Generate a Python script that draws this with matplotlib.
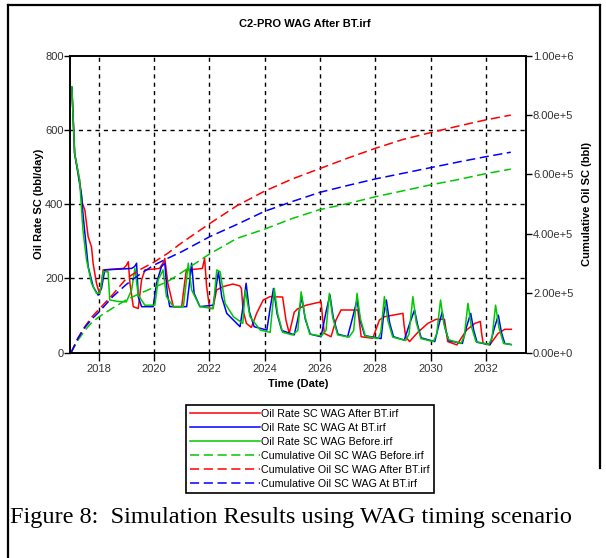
import matplotlib
matplotlib.use('Agg')
import matplotlib.pyplot as plt
from matplotlib.lines import Line2D
from matplotlib.ticker import FuncFormatter

plt.rcParams['font.family'] = ['Liberation Sans', 'DejaVu Sans']

# oil rate, WAG after BT (red)
red_t = [2017.03, 2017.13, 2017.31, 2017.4, 2017.5, 2017.62, 2017.74, 2017.8, 2017.92, 2018.01, 2018.08,
         2018.16, 2018.5, 2018.9, 2019.0, 2019.07, 2019.13, 2019.25, 2019.43, 2019.55, 2019.67, 2020.2,
         2020.35, 2020.39, 2020.5, 2020.7, 2021.0, 2021.12, 2021.17, 2021.5, 2021.75, 2021.83, 2021.9,
         2022.01, 2022.13, 2022.26, 2022.5, 2022.85, 2023.1, 2023.16, 2023.22, 2023.34, 2023.52, 2023.71,
         2023.95, 2024.19, 2024.65, 2024.77, 2024.89, 2025.07, 2025.19, 2025.5, 2026.04, 2026.1, 2026.16,
         2026.4, 2026.58, 2026.76, 2027.37, 2027.43, 2027.49, 2027.91, 2028.15, 2028.33, 2029.0, 2029.04,
         2029.1, 2029.24, 2029.54, 2029.9, 2030.2, 2030.5, 2030.56, 2030.62, 2030.95, 2031.3, 2031.6,
         2031.8, 2031.84, 2031.9, 2032.14, 2032.44, 2032.68, 2032.92]
red_q = [715, 537, 465, 405, 384, 312, 285, 240, 187, 164, 175,
         223, 225, 227, 235, 245, 187, 124, 119, 196, 223, 227,
         245, 254, 187, 124, 124, 196, 223, 225, 227, 254, 180,
         119, 119, 169, 178, 185, 180, 173, 115, 79, 68, 106,
         142, 151, 150, 88, 52, 109, 118, 128, 137, 90, 52,
         43, 88, 115, 115, 80, 43, 39, 88, 97, 106, 75,
         43, 30, 55, 79, 90, 90, 60, 30, 21, 61, 79,
         84, 55, 25, 21, 52, 63, 63]

# oil rate, WAG at BT (blue)
blue_t = [2017.03, 2017.13, 2017.3, 2017.38, 2017.43, 2017.62, 2017.8, 2017.98, 2018.1, 2018.22, 2018.7,
          2019.19, 2019.3, 2019.37, 2019.43, 2019.55, 2019.97, 2020.09, 2020.27, 2020.39, 2020.48, 2020.57,
          2021.18, 2021.27, 2021.36, 2021.45, 2021.66, 2022.14, 2022.25, 2022.33, 2022.45, 2022.63, 2022.87,
          2023.11, 2023.25, 2023.33, 2023.45, 2023.62, 2024.08, 2024.2, 2024.32, 2024.45, 2024.62, 2025.07,
          2025.2, 2025.34, 2025.47, 2025.65, 2026.04, 2026.22, 2026.36, 2026.48, 2026.65, 2027.0, 2027.2,
          2027.34, 2027.46, 2027.62, 2028.21, 2028.3, 2028.4, 2028.52, 2028.66, 2029.05, 2029.25, 2029.42,
          2029.53, 2029.66, 2030.15, 2030.3, 2030.42, 2030.53, 2030.66, 2031.15, 2031.3, 2031.45, 2031.56,
          2031.68, 2032.15, 2032.3, 2032.45, 2032.56, 2032.68, 2032.9]
blue_q = [715, 537, 460, 425, 375, 232, 178, 155, 173, 223, 225,
          227, 232, 241, 151, 124, 124, 187, 232, 241, 160, 124,
          124, 180, 241, 160, 124, 128, 180, 218, 150, 106, 88,
          70, 140, 187, 110, 70, 61, 120, 173, 105, 60, 48,
          90, 151, 90, 50, 43, 110, 156, 95, 50, 43, 100,
          142, 85, 46, 38, 100, 142, 80, 43, 34, 80, 115,
          75, 40, 30, 75, 110, 65, 32, 25, 70, 106, 60,
          28, 22, 65, 101, 55, 25, 22]

# oil rate, WAG before BT (green)
green_t = [2017.03, 2017.13, 2017.31, 2017.43, 2017.56, 2017.74, 2017.92, 2018.04, 2018.1, 2018.16, 2018.34,
           2018.4, 2018.7, 2019.0, 2019.19, 2019.31, 2019.43, 2019.67, 2020.03, 2020.15, 2020.33, 2020.45,
           2020.7, 2021.06, 2021.15, 2021.24, 2021.36, 2021.66, 2022.14, 2022.27, 2022.39, 2022.57, 2022.87,
           2023.21, 2023.3, 2023.47, 2023.84, 2024.2, 2024.35, 2024.47, 2024.65, 2025.0, 2025.2, 2025.32,
           2025.45, 2025.63, 2026.05, 2026.22, 2026.34, 2026.46, 2026.64, 2027.05, 2027.22, 2027.34, 2027.46,
           2027.64, 2028.1, 2028.2, 2028.33, 2028.45, 2028.63, 2029.1, 2029.22, 2029.36, 2029.48, 2029.65,
           2030.1, 2030.22, 2030.36, 2030.48, 2030.65, 2031.1, 2031.22, 2031.35, 2031.47, 2031.64, 2032.1,
           2032.22, 2032.35, 2032.47, 2032.64, 2032.92]
green_q = [715, 537, 465, 330, 250, 187, 160, 160, 185, 218, 218,
           142, 138, 137, 169, 227, 155, 128, 128, 196, 223, 151,
           124, 124, 180, 241, 169, 124, 119, 223, 218, 133, 97,
           79, 169, 97, 61, 55, 173, 105, 55, 48, 60, 164,
           100, 50, 45, 60, 160, 95, 48, 42, 60, 160, 92,
           45, 38, 55, 151, 88, 42, 33, 50, 151, 82, 38,
           30, 50, 142, 78, 35, 25, 45, 133, 72, 30, 22,
           40, 128, 68, 25, 22]

# cumulative oil (bbl)
cum_t = [2017.0, 2017.25, 2017.5, 2017.75, 2018.0, 2018.5, 2019.0, 2019.5, 2020.0, 2020.5, 2021.0, 2022.0,
         2023.0, 2024.0, 2025.0, 2026.0, 2027.0, 2028.0, 2029.0, 2030.0, 2031.0, 2032.0, 2032.9]
cum_red = [0, 50e3, 88e3, 120e3, 145e3, 195e3, 250e3, 280e3, 305e3, 335e3, 370e3, 434e3,
           495e3, 544e3, 585e3, 620e3, 655e3, 688e3, 718e3, 741e3, 763e3, 784e3, 800e3]
cum_blue = [0, 48e3, 85e3, 113e3, 136e3, 188e3, 230e3, 265e3, 295e3, 318e3, 340e3, 390e3,
            432e3, 476e3, 509e3, 540e3, 563e3, 585e3, 604e3, 623e3, 642e3, 660e3, 675e3]
cum_green = [0, 42e3, 75e3, 102e3, 120e3, 150e3, 178e3, 200e3, 220e3, 240e3, 270e3, 332e3,
             385e3, 416e3, 452e3, 482e3, 502e3, 525e3, 545e3, 565e3, 583e3, 603e3, 618e3]

year_ticks = [2018, 2020, 2022, 2024, 2026, 2028, 2030, 2032]
rate_ticks = [0, 200, 400, 600, 800]
cum_ticks = [0, 2e5, 4e5, 6e5, 8e5, 1e6]

RED, BLUE, GREEN = '#ff0000', '#0000ff', '#00c800'

fig = plt.figure(figsize=(6.06, 5.58), dpi=100)
ax = fig.add_axes([0.1163, 0.3679, 0.7517, 0.5323])
ax2 = ax.twinx()

l1, = ax.plot(red_t, red_q, color=RED, lw=1.1)
l2, = ax.plot(blue_t, blue_q, color=BLUE, lw=1.1)
l3, = ax.plot(green_t, green_q, color=GREEN, lw=1.1)
dash = (0, (6, 3))
l4, = ax2.plot(cum_t, cum_green, color=GREEN, lw=1.1, ls=dash)
l5, = ax2.plot(cum_t, cum_red, color=RED, lw=1.1, ls=dash)
l6, = ax2.plot(cum_t, cum_blue, color=BLUE, lw=1.1, ls=dash)

ax.set_xlim(2016.98, 2033.45)
ax.set_ylim(0, 800)
ax2.set_ylim(0, 1e6)
ax.set_xticks(year_ticks)
ax.set_yticks(rate_ticks)
ax2.set_yticks(cum_ticks)

def sci(v, pos):
    if v == 0:
        return '0.00e+0'
    e = len(str(int(v))) - 1
    return f'{v / 10**e:.2f}e+{e}'
ax2.yaxis.set_major_formatter(FuncFormatter(sci))

for a in (ax, ax2):
    for s in a.spines.values():
        s.set_linewidth(1.2)
    a.tick_params(labelsize=8, labelcolor='#333333', width=1.0, length=4, pad=1)
ax.tick_params(axis='x', length=6, pad=2)

# dashed grid, only where the rate axis has ticks
for y in rate_ticks[1:-1]:
    ax.axhline(y, color='black', lw=1.0, ls=(0, (3, 3)), zorder=0)
for x in year_ticks:
    ax.axvline(x, color='black', lw=1.0, ls=(0, (3, 3)), zorder=0)

ax.set_ylabel('Oil Rate SC (bbl/day)', fontsize=8, fontweight='bold', labelpad=1)
ax2.set_ylabel('Cumulative Oil SC (bbl)', fontsize=8, fontweight='bold', labelpad=6)
ax.set_xlabel('Time (Date)', fontsize=8, fontweight='bold', labelpad=4)
fig.text(0.503, 0.957, 'C2-PRO WAG After BT.irf', fontsize=8, fontweight='bold', ha='center', va='center')

labels = ['Oil Rate SC WAG After BT.irf', 'Oil Rate SC WAG At BT.irf', 'Oil Rate SC WAG Before.irf',
          'Cumulative Oil SC WAG Before.irf', 'Cumulative Oil SC WAG After BT.irf',
          'Cumulative Oil SC WAG At BT.irf']
leg = fig.legend([l1, l2, l3, l4, l5, l6], labels, loc='upper left', bbox_to_anchor=(0.307, 0.274),
                 borderaxespad=0, fontsize=7.7, handlelength=6.6, handletextpad=0.1,
                 labelspacing=0.38, borderpad=0.35, fancybox=False, framealpha=1)
leg.get_frame().set_edgecolor('black')
leg.get_frame().set_linewidth(1.2)

fig.text(0.017, 1 - 518 / 558, 'Figure 8:  Simulation Results using WAG timing scenario',
         family='Liberation Serif', fontsize=17.5, va='center', ha='left')

# page frame around the chart
fx0, fx1, fy1 = 7.5 / 606, 599.5 / 606, 1 - 5 / 558
fig.add_artist(Line2D([fx0, fx0], [0, fy1], color='black', lw=1.6, transform=fig.transFigure))
fig.add_artist(Line2D([fx0, fx1], [fy1, fy1], color='black', lw=1.6, transform=fig.transFigure))
fig.add_artist(Line2D([fx1, fx1], [fy1, 1 - 468 / 558], color='black', lw=1.6, transform=fig.transFigure))

fig.savefig('out.png', dpi=100)
